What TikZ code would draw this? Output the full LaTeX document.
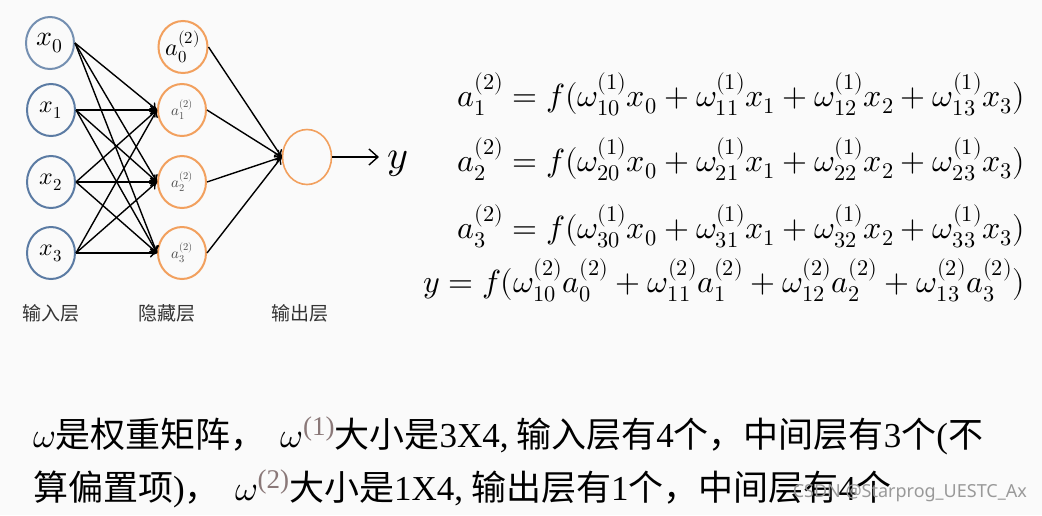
\documentclass[tikz,border=0pt]{standalone}
\usepackage{fontspec}
\usepackage{amsmath}
\usepackage{unicode-math}
\setmathfont{Latin Modern Math}
\newfontfamily\cjk{Noto Sans CJK SC}
\newfontfamily\ltf{Liberation Serif}
\newfontfamily\wmfont{Noto Sans}
\newcommand\lt[1]{{\ltf #1}}
\newcommand\supw[1]{$\omega$\raisebox{12pt}{\fontsize{27}{27}\selectfont\ltf\color{supc}(#1)}}
\usetikzlibrary{arrows.meta,shapes.geometric}
\definecolor{bg}{HTML}{FAFAFA}
\definecolor{inblue}{HTML}{5B7BA3}
\definecolor{hidorange}{HTML}{F2A05E}
\definecolor{supc}{HTML}{8A7878}
\begin{document}
\begin{tikzpicture}[x=1pt,y=-1pt,
  inn/.style={draw=inblue,line width=2pt,ellipse,minimum width=48pt,minimum height=52pt,inner sep=0pt},
  hid/.style={draw=hidorange,line width=2pt,ellipse,minimum width=48pt,minimum height=52pt,inner sep=0pt},
  edge/.style={-{To[length=7pt,width=9pt]},line width=1.4pt,black},
  lab/.style={font=\cjk\fontsize{19}{19}\selectfont,text=black!80},
  eq/.style={anchor=base east,font=\fontsize{32}{32}\selectfont,inner sep=0pt}
]
\useasboundingbox[fill=bg] (0,0) rectangle (1042,515);
% input layer
\node[inn,draw=inblue!85] (x0) at (50,43) {\fontsize{28}{28}\selectfont$x_0$};
\node[inn] (x1) at (51,110) {\fontsize{24}{24}\selectfont$x_1$};
\node[inn] (x2) at (51,182) {\fontsize{24}{24}\selectfont$x_2$};
\node[inn] (x3) at (51,253) {\fontsize{24}{24}\selectfont$x_3$};
% hidden layer
\node[hid] (a0) at (183,47) {\fontsize{24}{24}\selectfont$a_0^{(2)}$};
\node[hid] (a1) at (182,110) {\fontsize{15}{15}\selectfont\color{black!70}$a_1^{(2)}$};
\node[hid] (a2) at (182,182) {\fontsize{15}{15}\selectfont\color{black!70}$a_2^{(2)}$};
\node[hid] (a3) at (182,253) {\fontsize{15}{15}\selectfont\color{black!70}$a_3^{(2)}$};
% output
\node[hid,line width=1.6pt,minimum width=49pt,minimum height=55pt] (o) at (307,157) {};
\node[anchor=base,inner sep=0pt,font=\fontsize{40}{40}\selectfont] (y) at (398,168) {$y$};
\coordinate (yin) at (379,157);
% edges input -> hidden
\foreach \i in {x0,x1,x2,x3}{
  \foreach \j in {a1,a2,a3}{
    \draw[edge] (\i.east) -- (\j.west);
  }
}
\foreach \j in {a0,a1,a2,a3}{
  \draw[edge] (\j.east) -- (o.west);
}
\draw[-{Straight Barb[length=9pt,width=16pt]},line width=1.4pt] (o.east) -- (yin);
% layer labels
\node[lab] (l1) at (51,313) {输入层};
\node[lab] (l2) at (167,313) {隐藏层};
\node[lab] (l3) at (300,313) {输出层};
% equations
\node[eq] (e1) at (1025,106) {$a_1^{(2)}=f(\omega_{10}^{(1)}x_0+\omega_{11}^{(1)}x_1+\omega_{12}^{(1)}x_2+\omega_{13}^{(1)}x_3)$};
\node[eq] (e2) at (1025,171) {$a_2^{(2)}=f(\omega_{20}^{(1)}x_0+\omega_{21}^{(1)}x_1+\omega_{22}^{(1)}x_2+\omega_{23}^{(1)}x_3)$};
\node[eq] (e3) at (1025,238) {$a_3^{(2)}=f(\omega_{30}^{(1)}x_0+\omega_{31}^{(1)}x_1+\omega_{32}^{(1)}x_2+\omega_{33}^{(1)}x_3)$};
\node[eq] (e4) at (1025,292) {$y=f(\omega_{10}^{(2)}a_0^{(2)}+\omega_{11}^{(2)}a_1^{(2)}+\omega_{12}^{(2)}a_2^{(2)}+\omega_{13}^{(2)}a_3^{(2)})$};
% bottom text
\node[anchor=base west,inner sep=0pt,font=\cjk\fontsize{35}{35}\selectfont] (t1) at (33,447)
  {$\omega$是权重矩阵，\ \ \supw{1}大小是\lt{3X4,} 输入层有\lt{4}个，中间层有\lt{3}个\lt{(}不};
\node[anchor=base west,inner sep=0pt,font=\cjk\fontsize{35}{35}\selectfont] (t2) at (33,500)
  {算偏置项\lt{)}，\ \ \supw{2}大小是\lt{1X4,} 输出层有\lt{1}个，中间层有\lt{4}个};
\node[anchor=base east,inner sep=0pt,font=\wmfont\fontsize{18}{18}\selectfont,text=black!40] (wm) at (1027,497) {CSDN @Starprog\_UESTC\_Ax};
\end{tikzpicture}
\end{document}
